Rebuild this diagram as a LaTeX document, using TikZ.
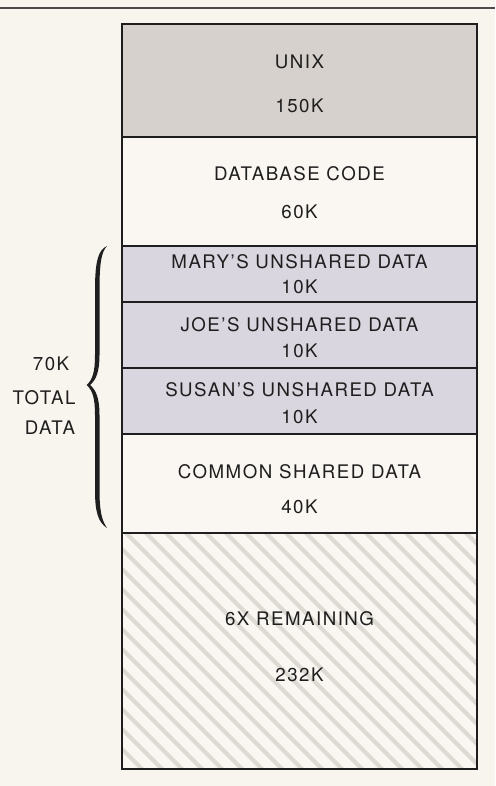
\documentclass[tikz,border=0pt]{standalone}
\usepackage{fontspec}
\setmainfont[LetterSpace=8]{TeX Gyre Heros}
\definecolor{paper}{HTML}{F8F4EE}
\definecolor{ink}{HTML}{1E1E1E}
\definecolor{osgray}{HTML}{D6D1CC}
\definecolor{lilac}{HTML}{DAD6DF}
\definecolor{plain}{HTML}{FAF7F2}
\definecolor{stripe}{HTML}{DDD9D3}
\tikzset{
  seg/.style={draw=ink, line width=1.6pt, minimum width=355pt, inner sep=0pt,
    outer sep=0pt, anchor=north},
  lbl/.style={text=ink, inner sep=0pt, align=center,
    font=\fontsize{18.7}{24}\selectfont},
  hatch/.style={stripe, line width=4pt}
}
\begin{document}
\begin{tikzpicture}[x=1pt,y=-1pt]
  \fill[paper] (0,0) rectangle (495,786);
  \useasboundingbox (0,0) rectangle (495,786);
  % rule across the top
  \coordinate (ruleL) at (0,8);
  \coordinate (ruleR) at (495,8);
  \draw[ink!80, line width=1.2pt] (ruleL) -- (ruleR);

  % memory map, top to bottom
  \node[seg, fill=osgray, minimum height=113pt] (unix) at (299.5,24) {};
  \node[seg, fill=plain, minimum height=109pt] (db) at (unix.south) {};
  \node[seg, fill=lilac, minimum height=56pt] (mary) at (db.south) {};
  \node[seg, fill=lilac, minimum height=66pt] (joe) at (mary.south) {};
  \node[seg, fill=lilac, minimum height=66pt] (susan) at (joe.south) {};
  \node[seg, fill=plain, minimum height=99pt] (common) at (susan.south) {};
  \node[seg, fill=plain, minimum height=236pt] (rest) at (common.south) {};

  % diagonal hatching of the free area
  \begin{scope}
    \clip (rest.north west) rectangle (rest.south east);
    \foreach \i in {0,...,30}
      \draw[hatch] (122-236+\i*20,533) -- ++(260,260);
  \end{scope}
  \draw[ink, line width=1.6pt] (rest.north west) rectangle (rest.south east);

  % segment captions
  \node[lbl] (unixtxt) at (299.5,84) {UNIX\\[20pt]150K};
  \node[lbl] (dbtxt) at (299.5,192.5) {DATABASE CODE\\[14pt]60K};
  \node[lbl] (marytxt) at (299.5,274.5) {MARY'S UNSHARED DATA\\[1pt]10K};
  \node[lbl] (joetxt) at (299.5,338) {JOE'S UNSHARED DATA\\[2pt]10K};
  \node[lbl] (susantxt) at (299.5,403.5) {SUSAN'S UNSHARED DATA\\[3pt]10K};
  \node[lbl] (commontxt) at (299.5,489) {COMMON SHARED DATA\\[11pt]40K};
  \node[lbl] (resttxt) at (299.5,647) {6X REMAINING\\[32pt]232K};

  % brace around the data segments
  \fill[ink] (107,246) .. controls (98,250) and (95,262) .. (95,290)
    -- (95,355) .. controls (95,372) and (92.5,380) .. (86.5,385)
    .. controls (92.5,390) and (95,398) .. (95,415)
    -- (95,490) .. controls (95,512) and (98,522) .. (107,528)
    .. controls (101.5,520) and (99.5,510) .. (99.5,490)
    -- (99.5,415) .. controls (99.5,398) and (96,390) .. (90,385)
    .. controls (96,380) and (99.5,372) .. (99.5,355)
    -- (99.5,290) .. controls (99.5,262) and (101.5,252) .. (107,246) -- cycle;
  \coordinate (bracetip) at (86.5,385);

  \node[lbl] (k70) at (51,364) {70K};
  \node[lbl] (total) at (44,398) {TOTAL};
  \node[lbl] (data) at (50,428) {DATA};
\end{tikzpicture}
\end{document}
